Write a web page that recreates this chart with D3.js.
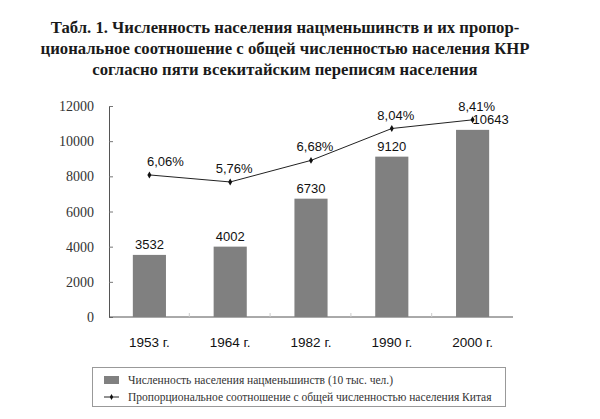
<!DOCTYPE html>
<html lang="ru">
<head>
<meta charset="utf-8">
<title>Численность населения нацменьшинств</title>
<script src="https://cdn.jsdelivr.net/npm/d3@7/dist/d3.min.js"></script>
<style>
  body { margin: 0; background: #fff; }
  svg { display: block; }
</style>
</head>
<body>
<svg id="chart" width="600" height="419"></svg>
<script>
// data
var years = ['1953 г.', '1964 г.', '1982 г.', '1990 г.', '2000 г.'];
var population = [3532, 4002, 6730, 9120, 10643];   // 10 тыс. чел.
var share = [6.06, 5.76, 6.68, 8.04, 8.41];         // %
var shareLabels = ['6,06%', '5,76%', '6,68%', '8,04%', '8,41%'];
var yTicks = [0, 2000, 4000, 6000, 8000, 10000, 12000];
var titleLines = [
    'Табл. 1. Численность населения нацменьшинств и их пропор-',
    'циональное соотношение с общей численностью населения КНР',
    'согласно пяти всекитайским переписям населения'
];
var legendText = [
    'Численность населения нацменьшинств (10 тыс. чел.)',
    'Пропорциональное соотношение с общей численностью населения Китая'
];

var svg = d3.select('#chart');
var serif = '"Liberation Serif", "DejaVu Serif", serif';
var sans = '"Liberation Sans", Arial, sans-serif';

// title
svg.append('g').selectAll('text')
    .data(titleLines)
    .enter().append('text')
    .attr('x', 285)
    .attr('y', function(d, i) { return 33 + i * 21; })
    .attr('text-anchor', 'middle')
    .attr('font-family', serif)
    .attr('font-weight', 'bold')
    .attr('font-size', 16.7)
    .attr('fill', '#1a1a1a')
    .text(function(d) { return d; });

var pLeft = 109, pRight = 513, pTop = 106, pBottom = 317;

var x = d3.scaleBand().domain(years).range([pLeft, pRight]).paddingInner(0.59).paddingOuter(0.295);
var y = d3.scaleLinear().domain([0, 12000]).range([pBottom, pTop]);
var y2 = d3.scaleLinear().domain([0, 9]).range([pBottom, pTop]);

// y axis
var yAxis = svg.append('g')
    .attr('transform', 'translate(' + pLeft + ',0)')
    .call(d3.axisRight(y).tickValues(yTicks).tickSize(4).tickFormat(''));
yAxis.select('.domain').attr('stroke', '#555');
yAxis.selectAll('.tick line').attr('stroke', '#777');

svg.append('g').selectAll('text')
    .data(yTicks)
    .enter().append('text')
    .attr('x', 94)
    .attr('y', function(d) { return y(d) + 5; })
    .attr('text-anchor', 'end')
    .attr('font-family', serif)
    .attr('font-size', 14)
    .attr('fill', '#333')
    .text(function(d) { return d; });

// x axis
svg.append('line')
    .attr('x1', pLeft).attr('x2', pRight)
    .attr('y1', pBottom).attr('y2', pBottom)
    .attr('stroke', '#555');
svg.append('g').selectAll('line')
    .data(years.slice(1))
    .enter().append('line')
    .attr('x1', function(d) { return x(d) - x.step() * x.paddingInner() / 2 - 0.5; })
    .attr('x2', function(d) { return x(d) - x.step() * x.paddingInner() / 2 - 0.5; })
    .attr('y1', pBottom).attr('y2', pBottom - 4)
    .attr('stroke', '#ccc');

svg.append('g').selectAll('text')
    .data(years)
    .enter().append('text')
    .attr('x', function(d) { return x(d) + x.bandwidth() / 2; })
    .attr('y', 347)
    .attr('text-anchor', 'middle')
    .attr('font-family', sans)
    .attr('font-size', 13.5)
    .attr('fill', '#111')
    .text(function(d) { return d; });

// bars
svg.append('g').selectAll('rect')
    .data(population)
    .enter().append('rect')
    .attr('x', function(d, i) { return x(years[i]); })
    .attr('y', function(d) { return y(d); })
    .attr('width', x.bandwidth())
    .attr('height', function(d) { return pBottom - y(d); })
    .attr('fill', '#808080');

svg.append('g').selectAll('text')
    .data(population)
    .enter().append('text')
    .attr('x', function(d, i) {
        var cx = x(years[i]) + x.bandwidth() / 2;
        return i == population.length - 1 ? cx + 18 : cx;   // last label pushed right, clear of the line
    })
    .attr('y', function(d) { return y(d) - 6; })
    .attr('text-anchor', 'middle')
    .attr('font-family', sans)
    .attr('font-size', 13)
    .attr('fill', '#111')
    .text(function(d) { return d; });

// line of shares
var line = d3.line()
    .x(function(d, i) { return x(years[i]) + x.bandwidth() / 2; })
    .y(function(d) { return y2(d); });

svg.append('path')
    .datum(share)
    .attr('d', line)
    .attr('fill', 'none')
    .attr('stroke', '#222')
    .attr('stroke-width', 1);

svg.append('g').selectAll('path')
    .data(share)
    .enter().append('path')
    .attr('d', d3.symbol().type(d3.symbolDiamond).size(14))
    .attr('transform', function(d, i) {
        return 'translate(' + (x(years[i]) + x.bandwidth() / 2) + ',' + y2(d) + ')';
    })
    .attr('fill', '#111');

svg.append('g').selectAll('text')
    .data(share)
    .enter().append('text')
    .attr('x', function(d, i) { return x(years[i]) + x.bandwidth() / 2 + (i == 0 ? 16 : 4); })
    .attr('y', function(d) { return y2(d) - 9; })
    .attr('text-anchor', 'middle')
    .attr('font-family', sans)
    .attr('font-size', 13)
    .attr('fill', '#111')
    .text(function(d, i) { return shareLabels[i]; });

// legend
var legend = svg.append('g');
legend.append('rect')
    .attr('x', 92.5).attr('y', 367.5)
    .attr('width', 413).attr('height', 39)
    .attr('fill', '#fff')
    .attr('stroke', '#999');
legend.append('rect')
    .attr('x', 104).attr('y', 376)
    .attr('width', 15).attr('height', 8)
    .attr('fill', '#808080');
legend.append('line')
    .attr('x1', 104).attr('x2', 119)
    .attr('y1', 397).attr('y2', 397)
    .attr('stroke', '#222');
legend.append('path')
    .attr('d', d3.symbol().type(d3.symbolDiamond).size(10))
    .attr('transform', 'translate(111.5,397)')
    .attr('fill', '#111');
legend.selectAll('text.lg')
    .data(legendText)
    .enter().append('text')
    .attr('class', 'lg')
    .attr('x', 128)
    .attr('y', function(d, i) { return 384 + i * 17; })
    .attr('font-family', serif)
    .attr('font-size', 11.5)
    .attr('fill', '#333')
    .text(function(d) { return d; });
</script>
</body>
</html>
